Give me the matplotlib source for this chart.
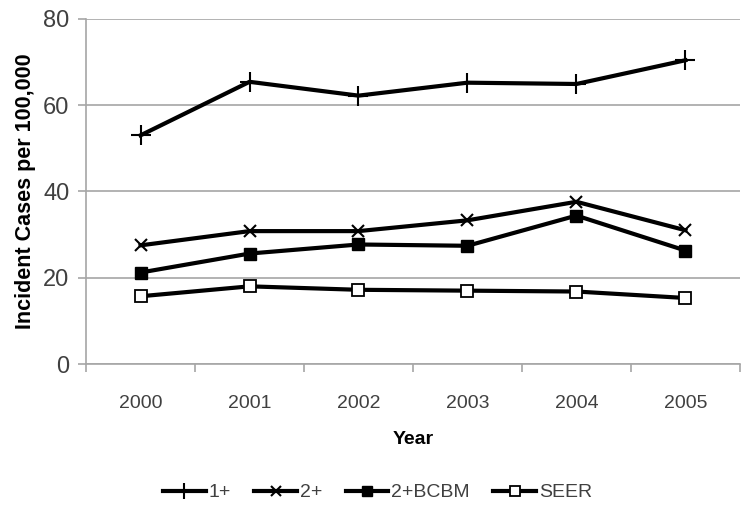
import matplotlib.pyplot as plt
import numpy as np

# Data
years = ['2000', '2001', '2002', '2003', '2004', '2005']
one_plus = [53.0, 65.4, 62.2, 65.2, 64.9, 70.4]
two_plus = [27.5, 30.8, 30.8, 33.3, 37.6, 31.0]
two_bcbm = [21.2, 25.6, 27.7, 27.4, 34.4, 26.3]
seer = [15.7, 18.0, 17.2, 17.0, 16.8, 15.3]

plt.rcParams['font.family'] = ['Liberation Sans Narrow', 'Liberation Sans', 'DejaVu Sans']

fig = plt.figure(figsize=(7.55, 5.23), dpi=100)
ax = fig.add_axes([0.114, 0.304, 0.866, 0.660])

x = np.arange(len(years))
lw = 3.0
ax.plot(x, one_plus, color='black', linewidth=lw, marker='+', markersize=15,
        markeredgewidth=1.5, label='1+', zorder=3)
ax.plot(x, two_plus, color='black', linewidth=lw, marker='x', markersize=9,
        markeredgewidth=1.5, label='2+', zorder=3)
ax.plot(x, two_bcbm, color='black', linewidth=lw, marker='s', markersize=9,
        markerfacecolor='black', markeredgecolor='black', label='2+BCBM', zorder=3)
ax.plot(x, seer, color='black', linewidth=lw, marker='s', markersize=9,
        markerfacecolor='white', markeredgecolor='black', markeredgewidth=1.3,
        label='SEER', zorder=3)

# Axes limits and grid
ax.set_xlim(-0.5, len(years) - 0.5)
ax.set_ylim(0, 80)
ax.set_yticks([0, 20, 40, 60, 80])
ax.yaxis.grid(True, color='#a6a6a6', linewidth=1.2)
ax.set_axisbelow(True)

# Category ticks between labels
ax.set_xticks(np.arange(-0.5, len(years), 1.0))
ax.set_xticklabels([])
ax.set_xticks(x, minor=True)
ax.set_xticklabels(years, minor=True)
ax.tick_params(axis='x', which='major', length=6, color='#a6a6a6', width=1.2)
ax.tick_params(axis='x', which='minor', length=0, pad=22, labelsize=14, labelcolor='#404040')
ax.tick_params(axis='y', length=6, color='#a6a6a6', width=1.2, labelsize=17,
               labelcolor='#404040', pad=6)

for side in ['top', 'right']:
    ax.spines[side].set_visible(False)
for side in ['left', 'bottom']:
    ax.spines[side].set_color('#a6a6a6')
    ax.spines[side].set_linewidth(1.2)

ax.set_xlabel('Year', fontsize=14, fontweight='bold', labelpad=14)
ax.set_ylabel('Incident Cases per 100,000', fontsize=15.5, fontweight='bold', labelpad=5)

# Legend
leg = fig.legend(loc='center', bbox_to_anchor=(0.5, 0.058), ncol=4, frameon=False,
                 fontsize=14, handlelength=2.2, columnspacing=1.2, handletextpad=0.15,
                 labelcolor='#404040', markerscale=0.8)

plt.savefig('out.png', dpi=100)
